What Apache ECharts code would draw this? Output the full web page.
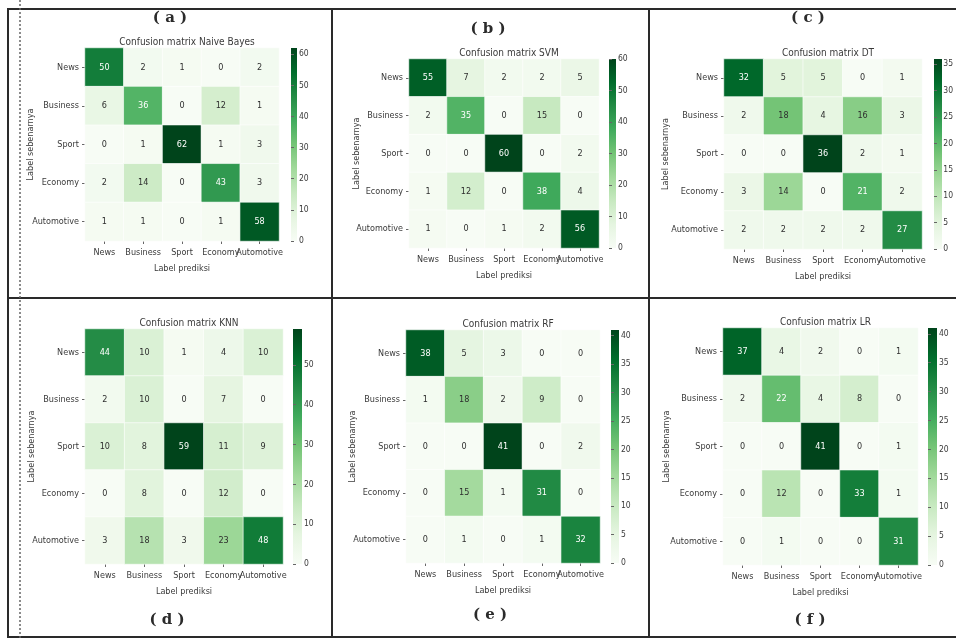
<!DOCTYPE html>
<html>
<head>
<meta charset="utf-8">
<script src="https://cdn.jsdelivr.net/npm/echarts@6/dist/echarts.min.js"></script>
<style>
  html, body { margin: 0; padding: 0; background: #fff; }
  #chart { width: 956px; height: 639px; }
</style>
</head>
<body>
<div id="chart"></div>
<script>
// Class labels shared by every confusion matrix (rows = true label, columns = predicted)
const categories = ['News', 'Business', 'Sport', 'Economy', 'Automotive'];

const matNaiveBayes = [
  [50, 2, 1, 0, 2],
  [6, 36, 0, 12, 1],
  [0, 1, 62, 1, 3],
  [2, 14, 0, 43, 3],
  [1, 1, 0, 1, 58]
];
const matSVM = [
  [55, 7, 2, 2, 5],
  [2, 35, 0, 15, 0],
  [0, 0, 60, 0, 2],
  [1, 12, 0, 38, 4],
  [1, 0, 1, 2, 56]
];
const matDT = [
  [32, 5, 5, 0, 1],
  [2, 18, 4, 16, 3],
  [0, 0, 36, 2, 1],
  [3, 14, 0, 21, 2],
  [2, 2, 2, 2, 27]
];
const matKNN = [
  [44, 10, 1, 4, 10],
  [2, 10, 0, 7, 0],
  [10, 8, 59, 11, 9],
  [0, 8, 0, 12, 0],
  [3, 18, 3, 23, 48]
];
const matRF = [
  [38, 5, 3, 0, 0],
  [1, 18, 2, 9, 0],
  [0, 0, 41, 0, 2],
  [0, 15, 1, 31, 0],
  [0, 1, 0, 1, 32]
];
const matLR = [
  [37, 4, 2, 0, 1],
  [2, 22, 4, 8, 0],
  [0, 0, 41, 0, 1],
  [0, 12, 0, 33, 1],
  [0, 1, 0, 0, 31]
];

// Colour bar tick labels
const ticksNaiveBayes = [0, 10, 20, 30, 40, 50, 60];
const ticksSVM = [0, 10, 20, 30, 40, 50, 60];
const ticksDT = [0, 5, 10, 15, 20, 25, 30, 35];
const ticksKNN = [0, 10, 20, 30, 40, 50];
const ticksRF = [0, 5, 10, 15, 20, 25, 30, 35, 40];
const ticksLR = [0, 5, 10, 15, 20, 25, 30, 35, 40];

const titles = ['Confusion matrix Naive Bayes', 'Confusion matrix SVM', 'Confusion matrix DT',
                'Confusion matrix KNN', 'Confusion matrix RF', 'Confusion matrix LR'];
const panelTags = ['( a )', '( b )', '( c )', '( d )', '( e )', '( f )'];

// Matplotlib "Greens" colour map
const greens = ['#f7fcf5', '#e5f5e0', '#c7e9c0', '#a1d99b', '#74c476',
                '#41ab5d', '#238b45', '#006d2c', '#00441b'];

const FONT = "'DejaVu Sans Condensed', 'Liberation Sans Narrow', 'DejaVu Sans', sans-serif";
const TEXT = '#3a3a3a';

// Panel geometry: heatmap box, colour bar x / width, y-name gap and the tag position
const panels = [
  { mat: matNaiveBayes, ticks: ticksNaiveBayes, x: 85, y: 48, w: 194, h: 193, cbx: 291, cbw: 6, yGap: 50, tag: [170, 18] },
  { mat: matSVM, ticks: ticksSVM, x: 409, y: 59, w: 190, h: 189, cbx: 609, cbw: 7, yGap: 48, tag: [488, 29] },
  { mat: matDT, ticks: ticksDT, x: 724, y: 59, w: 198, h: 190, cbx: 934, cbw: 8, yGap: 54, tag: [808, 18] },
  { mat: matKNN, ticks: ticksKNN, x: 85, y: 329, w: 198, h: 235, cbx: 293, cbw: 9, yGap: 49, tag: [167, 620] },
  { mat: matRF, ticks: ticksRF, x: 406, y: 330, w: 194, h: 233, cbx: 611, cbw: 8, yGap: 49, tag: [490, 615] },
  { mat: matLR, ticks: ticksLR, x: 723, y: 328, w: 195, h: 237, cbx: 928, cbw: 9, yGap: 52, tag: [810, 620] }
];

const grid = [], xAxis = [], yAxis = [], series = [], visualMap = [], title = [];
const graphic = [];

// vertical gradient of the colour map, dark end on top
const barGradient = {
  type: 'linear', x: 0, y: 1, x2: 0, y2: 0,
  colorStops: greens.map((c, i) => ({ offset: i / (greens.length - 1), color: c }))
};

panels.forEach((p, k) => {
  const vmax = Math.max(...p.mat.flat());
  const gi = grid.length;

  // heatmap grid
  grid.push({ left: p.x, top: p.y, width: p.w, height: p.h });
  xAxis.push({
    type: 'category', gridIndex: gi, data: categories, position: 'bottom',
    axisLine: { show: false },
    axisTick: { show: true, alignWithLabel: true, length: 3, lineStyle: { color: '#666' } },
    axisLabel: { fontFamily: FONT, fontSize: 9, color: TEXT, margin: 7, interval: 0 },
    splitLine: { show: false },
    name: 'Label prediksi', nameLocation: 'middle', nameGap: 23,
    nameTextStyle: { fontFamily: FONT, fontSize: 9, color: TEXT }
  });
  yAxis.push({
    type: 'category', gridIndex: gi, data: categories, inverse: true,
    axisLine: { show: false },
    axisTick: { show: true, alignWithLabel: true, length: 3, lineStyle: { color: '#666' } },
    axisLabel: { fontFamily: FONT, fontSize: 9, color: TEXT, margin: 6 },
    splitLine: { show: false },
    name: 'Label sebenarnya', nameLocation: 'middle', nameGap: p.yGap, nameRotate: 90,
    nameMoveOverlap: false,
    nameTextStyle: { fontFamily: FONT, fontSize: 9, color: TEXT }
  });

  // colour bar axis grid
  grid.push({ left: p.cbx, top: p.y, width: p.cbw, height: p.h });
  xAxis.push({ type: 'value', gridIndex: gi + 1, show: false });
  yAxis.push({
    type: 'value', gridIndex: gi + 1, position: 'right', min: 0, max: vmax,
    axisLine: { show: false },
    axisTick: { show: true, length: 3, customValues: p.ticks, lineStyle: { color: '#666' } },
    axisLabel: { show: true, customValues: p.ticks, fontFamily: FONT, fontSize: 8.5, color: TEXT, margin: 2 },
    splitLine: { show: false }
  });

  const data = [];
  p.mat.forEach((row, i) => {
    row.forEach((v, j) => {
      data.push({
        value: [j, i, v],
        label: { color: v / vmax > 0.52 ? '#ffffff' : '#2e2e2e' }
      });
    });
  });

  series.push({
    type: 'heatmap', xAxisIndex: gi, yAxisIndex: gi, data: data,
    itemStyle: { borderColor: '#ffffff', borderWidth: 0.6 },
    label: { show: true, fontFamily: FONT, fontSize: 9, formatter: (d) => d.value[2] },
    emphasis: { disabled: true }
  });

  visualMap.push({
    type: 'continuous', seriesIndex: k, min: 0, max: vmax,
    inRange: { color: greens }, show: false
  });

  // colour bar strip beside the matrix
  graphic.push({
    type: 'rect', shape: { x: p.cbx, y: p.y, width: p.cbw, height: p.h },
    style: { fill: barGradient }, silent: true
  });

  title.push({
    text: titles[k], left: p.x + p.w / 2, top: p.y - 16, textAlign: 'center',
    textStyle: { fontFamily: FONT, fontSize: 10, fontWeight: 'normal', color: TEXT }
  });

  graphic.push({
    type: 'text', x: p.tag[0], y: p.tag[1],
    style: {
      text: panelTags[k], fontFamily: "'DejaVu Serif', 'Liberation Serif', serif",
      fontSize: 15, fontWeight: 'bold', fill: '#2b2b2b', align: 'center', verticalAlign: 'middle'
    }
  });
});

// table rules framing the six panels
const rule = (x1, y1, x2, y2, dash) => ({
  type: 'line', shape: { x1, y1, x2, y2 },
  style: { stroke: dash ? '#666' : '#2a2a2a', lineWidth: dash ? 1.5 : 2, lineDash: dash ? [2, 2] : null }
});
graphic.push(rule(7, 9, 956, 9));
graphic.push(rule(7, 298, 956, 298));
graphic.push(rule(7, 637, 956, 637));
graphic.push(rule(8, 8, 8, 638));
graphic.push(rule(332, 8, 332, 638));
graphic.push(rule(649, 8, 649, 638));
graphic.push(rule(20, 0, 20, 639, true));

const chart = echarts.init(document.getElementById('chart'), null, { renderer: 'canvas' });
chart.setOption({
  backgroundColor: '#ffffff',
  animation: false,
  title, grid, xAxis, yAxis, series, visualMap, graphic
});
</script>
</body>
</html>
